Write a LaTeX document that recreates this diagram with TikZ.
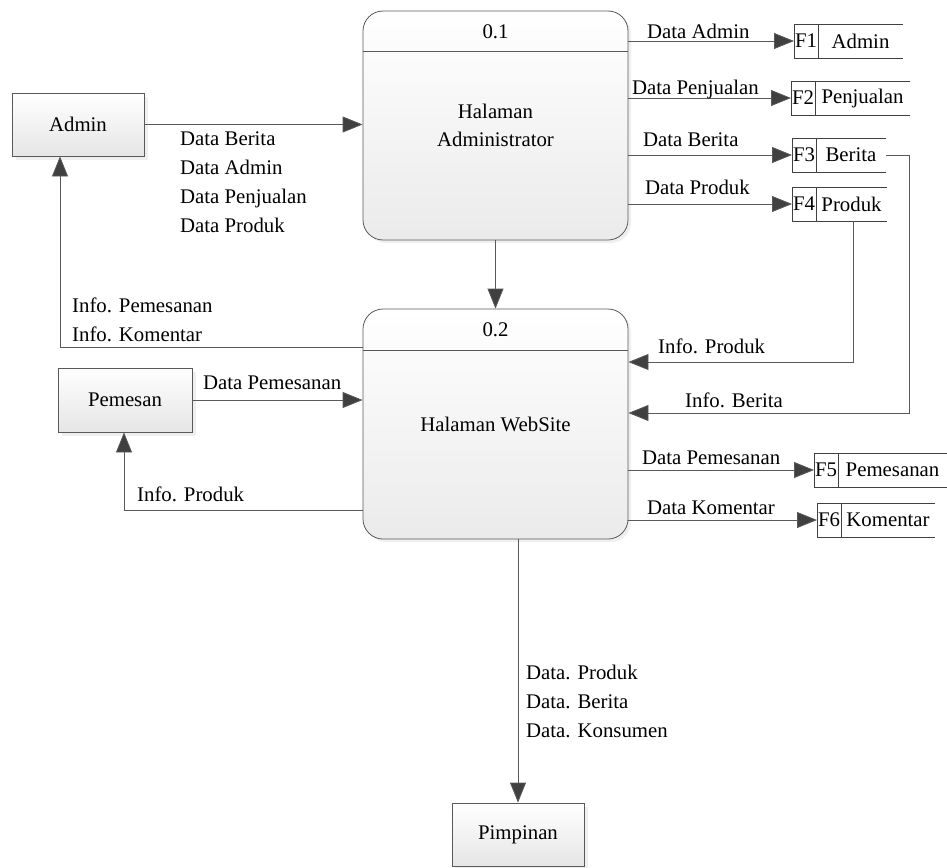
\documentclass[tikz,border=0pt]{standalone}
\usepackage{fontspec}
\setmainfont{Liberation Serif}
\usetikzlibrary{arrows.meta,positioning,calc,shadows}

\begin{document}
\begin{tikzpicture}[
    x=1pt, y=-1pt,
    font=\fontsize{20.8}{28.7}\selectfont,
    proc/.style={draw=black!65, line width=0.8pt, rounded corners=20pt, minimum width=265pt, align=center, top color=white, bottom color=black!8, drop shadow={shadow xshift=3pt, shadow yshift=-3pt, fill=black!12}},
    ent/.style={draw=black!65, line width=0.8pt, minimum width=132pt, minimum height=63pt, top color=white, bottom color=black!10, drop shadow={shadow xshift=4pt, shadow yshift=-4pt, fill=black!12}},
    store/.style={minimum height=34pt, inner sep=0pt, outer sep=0pt},
    lbl/.style={inner sep=0pt, anchor=base west},
    mlbl/.style={inner sep=0pt, anchor=north west, align=left},
    arrow/.style={draw=black!65, line width=0.8pt, -{Triangle[length=20pt, width=16pt, fill=black!75]}}
  ]
    \useasboundingbox (0,0) rectangle (947,867);

    % processes
    \node[proc, minimum height=229pt] (p1) at (495.5,125.5) {Halaman\\Administrator};
    \node (p1id) at ([yshift=-21pt]p1.north) {0.1};
    \draw[black!65, line width=0.8pt] ([yshift=-41pt]p1.north west) -- ([yshift=-41pt]p1.north east);

    \node[proc, minimum height=230pt] (p2) at (495.5,424) {Halaman WebSite};
    \node (p2id) at ([yshift=-21pt]p2.north) {0.2};
    \draw[black!65, line width=0.8pt] ([yshift=-42pt]p2.north west) -- ([yshift=-42pt]p2.north east);

    % entities
    \node[ent] (admin) at (78,124.5) {Admin};
    \node[ent, minimum width=134pt, minimum height=64pt] (pemesan) at (125,400) {Pemesan};
    \node[ent] (pimpinan) at (518,834.5) {Pimpinan};

    % data stores
    \foreach \n/\x/\y/\w/\id/\t in {f1/794/41/109/F1/Admin, f2/791/98/119/F2/Penjualan,
        f3/792/155/94/F3/Berita, f4/792/204/95/F4/Produk,
        f5/814/470/133/F5/Pemesanan, f6/817/520/118/F6/Komentar} {
      \node[store, minimum width=\w pt, anchor=west] (\n) at (\x,\y) {};
      \draw[black!75, line width=0.8pt] (\n.north east) -- (\n.north west) -- (\n.south west) -- (\n.south east);
      \draw[black!75, line width=0.8pt] ([xshift=24pt]\n.north west) -- ([xshift=24pt]\n.south west);
      \node (\n id) at ([xshift=12pt]\n.west) {\id};
      \node (\n txt) at ($([xshift=24pt]\n.west)!0.5!(\n.east)$) {\t};
    }

    % flows
    \draw[arrow] (admin.east) -- (admin.east -| p1.west);
    \foreach \n in {f1,f2,f3,f4}
      \draw[arrow] (p1.east |- \n.west) -- (\n.west);
    \draw[arrow] (p1) -- (p2);
    \draw[arrow] (p2.west |- 0,347) -| ([xshift=-18pt]admin.south);
    \draw[arrow] (pemesan.east) -- (pemesan.east -| p2.west);
    \draw[arrow] (p2.west |- 0,510) -| ([xshift=-1pt]pemesan.south);
    \draw[arrow] ([xshift=13.5pt]f4.south) |- (p2.east |- 0,362);
    \draw[arrow] (f3.east) -- ++(23,0) |- (p2.east |- 0,413);
    \foreach \n in {f5,f6}
      \draw[arrow] (p2.east |- \n.west) -- (\n.west);
    \draw[arrow] (pimpinan.north |- p2.south) -- (pimpinan.north);

    % labels
    \node[lbl] at (647,38) {Data Admin};
    \node[lbl] at (632,94) {Data Penjualan};
    \node[lbl] at (643,146) {Data Berita};
    \node[lbl] at (645,194) {Data Produk};
    \node[mlbl] at (180,132) {Data Berita\\Data Admin\\Data Penjualan\\Data Produk};
    \node[mlbl] at (72,298) {Info. Pemesanan\\Info. Komentar};
    \node[lbl] at (203,389) {Data Pemesanan};
    \node[lbl] at (137,501) {Info. Produk};
    \node[lbl] at (658,353) {Info. Produk};
    \node[lbl] at (685,407) {Info. Berita};
    \node[lbl] at (642,464) {Data Pemesanan};
    \node[lbl] at (647,514) {Data Komentar};
    \node[mlbl] at (526,665) {Data. Produk\\Data. Berita\\Data. Konsumen};
\end{tikzpicture}
\end{document}
